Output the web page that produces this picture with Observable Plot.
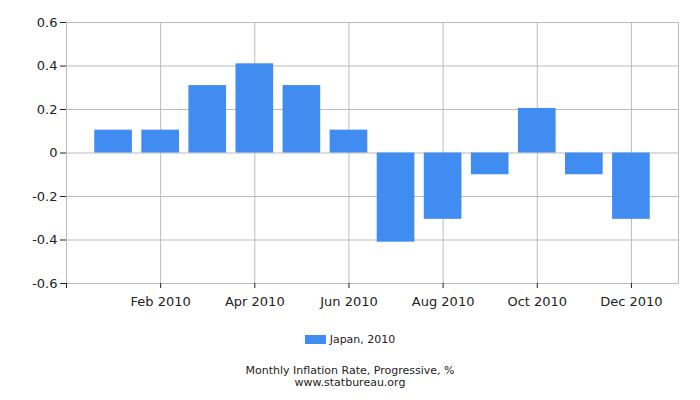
<!DOCTYPE html>
<html><head><meta charset="utf-8">
<script src="https://cdn.jsdelivr.net/npm/d3@7"></script>
<script src="https://cdn.jsdelivr.net/npm/@observablehq/plot@0.6"></script>
<style>
body{margin:0;background:#fff;font-family:"DejaVu Sans",sans-serif;}
#wrap{position:relative;width:700px;height:400px;}
#legend{position:absolute;left:0;top:333px;width:700px;text-align:center;font-size:11px;color:#222;}
#legend .sw{display:inline-block;width:21px;height:9px;background:#418cf0;margin-right:4px;vertical-align:-1px;}
#caption{position:absolute;left:0;top:365px;width:700px;text-align:center;font-size:11px;line-height:12px;color:#222;}
</style>
</head><body>
<div id="wrap"><div id="chart"></div>
<div id="legend"></div>
<div id="caption"></div></div>
<script>
const months = ["Jan 2010","Feb 2010","Mar 2010","Apr 2010","May 2010","Jun 2010","Jul 2010","Aug 2010","Sep 2010","Oct 2010","Nov 2010","Dec 2010"];
const values = [0.105, 0.105, 0.31, 0.41, 0.31, 0.105, -0.41, -0.305, -0.1, 0.205, -0.1, -0.305];
const yTicks = [-0.6, -0.4, -0.2, 0, 0.2, 0.4, 0.6];
const xTickIdx = [-1, 1, 3, 5, 7, 9, 11];
const seriesName = "Japan, 2010";
const captionLines = ["Monthly Inflation Rate, Progressive, %", "www.statbureau.org"];
const barColor = "#418cf0";

const data = months.map((m, i) => ({i, m, v: values[i]}));

const plot = Plot.plot({
  width: 700, height: 310,
  marginTop: 22, marginBottom: 27, marginLeft: 66, marginRight: 22,
  style: {fontFamily: "DejaVu Sans", fontSize: "13px", color: "#222", background: "#fff"},
  x: {domain: [-1, 12]},
  y: {domain: [-0.6, 0.6]},
  marks: [
    Plot.gridY(yTicks, {stroke: "#bbb", strokeOpacity: 1}),
    Plot.gridX(xTickIdx.filter(d => d >= 0), {stroke: "#bbb", strokeOpacity: 1}),
    Plot.rect(data, {x1: d => d.i - 0.4, x2: d => d.i + 0.4, y1: 0, y2: "v", fill: barColor}),
    Plot.frame({stroke: "#bbb"}),
    Plot.axisY(yTicks, {tickSize: 6, tickPadding: 3, stroke: "#222", tickFormat: d => d === 0 ? "0" : d.toFixed(1), label: null}),
    Plot.axisX(xTickIdx, {tickSize: 5, tickPadding: 8, stroke: "#222", tickFormat: d => d >= 0 ? months[d] : "", label: null})
  ]
});
document.getElementById("chart").appendChild(plot);
document.getElementById("legend").innerHTML = '<span class="sw"></span>' + seriesName;
document.getElementById("caption").innerHTML = captionLines.join("<br>");
</script>
</body></html>
